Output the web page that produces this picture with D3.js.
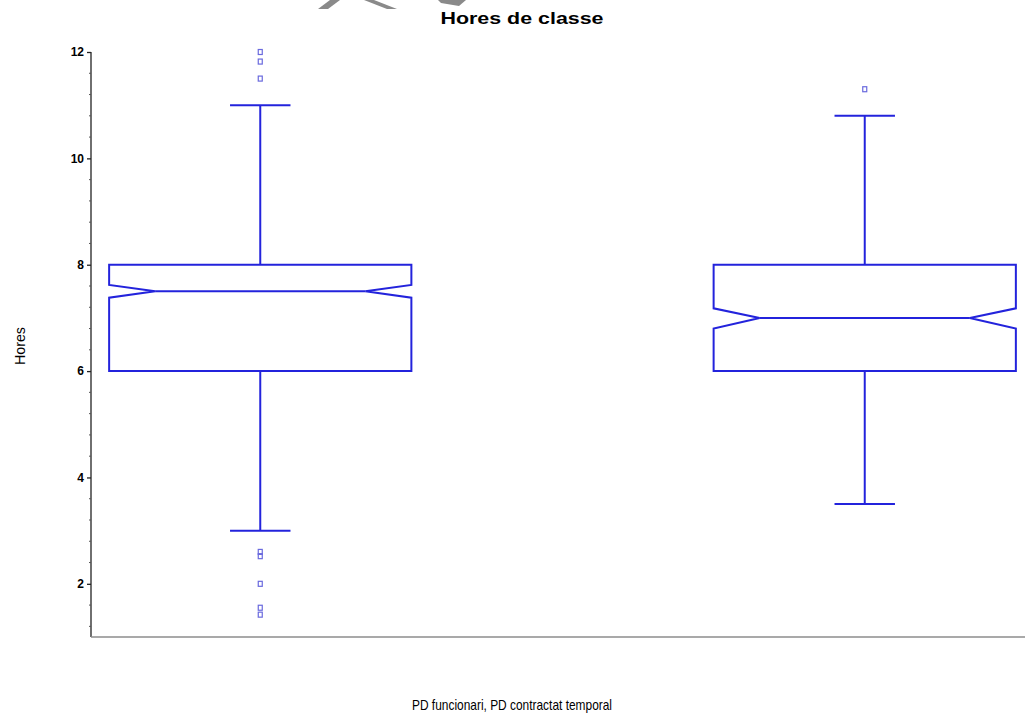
<!DOCTYPE html>
<html>
<head>
<meta charset="utf-8">
<script src="https://cdn.jsdelivr.net/npm/d3@7"></script>
<style>
  html, body { margin: 0; padding: 0; background: #fff; }
  svg { display: block; }
</style>
</head>
<body>
<svg id="chart" width="1025" height="715"></svg>
<script>
// ---- data ----
const categories = ["PD funcionari", "PD contractat temporal"];
const q1Values = [6, 6];
const medianValues = [7.5, 7];
const q3Values = [8, 8];
const whiskerLow = [3, 3.5];
const whiskerHigh = [11, 10.8];
const notchLow = [7.38, 6.8];
const notchHigh = [7.62, 7.18];
const outliers = [
  [12, 11.82, 11.5, 2.6, 2.52, 2.0, 1.55, 1.42],
  [11.3]
];
const yTicks = [2, 4, 6, 8, 10, 12];
const titleText = "Hores de classe";
const yLabel = "Hores";
const xLabel = "PD funcionari, PD contractat temporal";

// ---- layout ----
const W = 1025, H = 715;
const mLeft = 91, mRight = 1034, mTop = 52, mBottom = 637;
const font = "'Liberation Sans Narrow', 'Arial Narrow', 'Liberation Sans', Arial, sans-serif";
const boxColor = "#2323dc";
const outColor = "#6a6ade";

const svg = d3.select("#chart");

const y = d3.scaleLinear().domain([1, 12]).range([mBottom, mTop]);
const x = d3.scalePoint().domain(categories).range([mLeft, mRight]).padding(0.28);
const step = x.step();
const boxW = step * 0.5;
const capW = step * 0.1;
const notchIn = 46;

// watermark fragments at the top
const wm = svg.append("g").attr("fill", "#8a8a8a");
wm.append("path").attr("d", "M318,9 L328,9 L340,0 L330,0 Z");
wm.append("path").attr("d", "M364,0 L374,0 L397,9 L387,9 Z");
wm.append("path").attr("d", "M438,0 L466,0 L459,6 L441,3 Z");

// title
svg.append("text")
  .attr("x", 522).attr("y", 24)
  .attr("text-anchor", "middle")
  .attr("font-family", font).attr("font-weight", "bold")
  .attr("font-size", 17).attr("fill", "#000")
  .attr("textLength", 163).attr("lengthAdjust", "spacingAndGlyphs")
  .text(titleText);

// y axis
const yAxis = d3.axisLeft(y).tickValues(yTicks).tickSize(4).tickPadding(3)
  .tickFormat(d3.format("d"));
const gy = svg.append("g").attr("transform", `translate(${mLeft},0)`).call(yAxis);
gy.select(".domain").attr("d", `M0,${mTop}V${mBottom}`).attr("stroke", "#222").attr("stroke-width", 1.3);
gy.selectAll(".tick line").attr("stroke", "#222").attr("stroke-width", 1.3);
gy.selectAll(".tick text")
  .attr("font-family", font).attr("font-weight", "bold")
  .attr("font-size", 12).attr("fill", "#000");

// minor ticks
const minor = d3.range(1.2, 12, 0.4).filter(v => !yTicks.some(t => Math.abs(t - v) < 1e-6));
svg.append("g").selectAll("line").data(minor).join("line")
  .attr("x1", mLeft - 2).attr("x2", mLeft)
  .attr("y1", d => y(d)).attr("y2", d => y(d))
  .attr("stroke", "#555").attr("stroke-width", 1);

// x axis line
svg.append("line")
  .attr("x1", mLeft).attr("x2", W)
  .attr("y1", mBottom).attr("y2", mBottom)
  .attr("stroke", "#8c8c8c").attr("stroke-width", 1.6);

// axis labels
svg.append("text")
  .attr("transform", `translate(25,346) rotate(-90)`)
  .attr("text-anchor", "middle")
  .attr("font-family", font).attr("font-size", 14).attr("fill", "#000")
  .attr("textLength", 38).attr("lengthAdjust", "spacingAndGlyphs")
  .text(yLabel);

svg.append("text")
  .attr("x", 512).attr("y", 710)
  .attr("text-anchor", "middle")
  .attr("font-family", font).attr("font-size", 15).attr("fill", "#000")
  .attr("textLength", 200).attr("lengthAdjust", "spacingAndGlyphs")
  .text(xLabel);

// boxes
const rows = categories.map((c, i) => ({
  c, q1: q1Values[i], med: medianValues[i], q3: q3Values[i],
  lo: whiskerLow[i], hi: whiskerHigh[i], nl: notchLow[i], nh: notchHigh[i], out: outliers[i]
}));

const g = svg.append("g");
rows.forEach(r => {
  const cx = x(r.c);
  const x0 = cx - boxW / 2, x1 = cx + boxW / 2;
  const gb = g.append("g").attr("stroke", boxColor).attr("stroke-width", 2).attr("fill", "none");
  // whiskers
  gb.append("line").attr("x1", cx).attr("x2", cx).attr("y1", y(r.q3)).attr("y2", y(r.hi));
  gb.append("line").attr("x1", cx).attr("x2", cx).attr("y1", y(r.q1)).attr("y2", y(r.lo));
  gb.append("line").attr("x1", cx - capW / 2).attr("x2", cx + capW / 2).attr("y1", y(r.hi)).attr("y2", y(r.hi));
  gb.append("line").attr("x1", cx - capW / 2).attr("x2", cx + capW / 2).attr("y1", y(r.lo)).attr("y2", y(r.lo));
  // notched box
  const p = d3.path();
  p.moveTo(x0, y(r.q3));
  p.lineTo(x1, y(r.q3));
  p.lineTo(x1, y(r.nh));
  p.lineTo(x1 - notchIn, y(r.med));
  p.lineTo(x1, y(r.nl));
  p.lineTo(x1, y(r.q1));
  p.lineTo(x0, y(r.q1));
  p.lineTo(x0, y(r.nl));
  p.lineTo(x0 + notchIn, y(r.med));
  p.lineTo(x0, y(r.nh));
  p.closePath();
  gb.append("path").attr("d", p.toString()).attr("stroke-linejoin", "miter");
  // median
  gb.append("line").attr("x1", x0 + notchIn).attr("x2", x1 - notchIn)
    .attr("y1", y(r.med)).attr("y2", y(r.med));
  // outliers
  g.append("g").selectAll("rect").data(r.out).join("rect")
    .attr("x", cx - 2).attr("y", d => y(d) - 2.5)
    .attr("width", 4).attr("height", 5)
    .attr("fill", "none").attr("stroke", outColor).attr("stroke-width", 1.2);
});
</script>
</body>
</html>
